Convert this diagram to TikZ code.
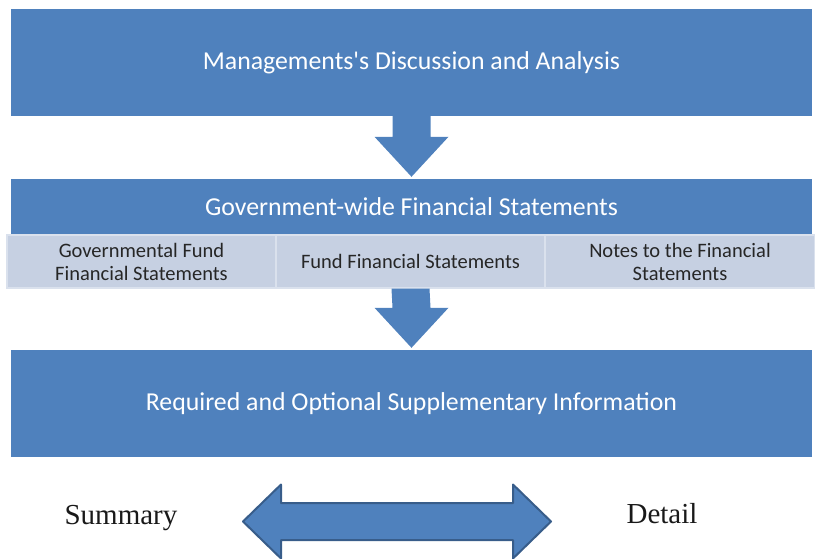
\documentclass[tikz,border=0pt]{standalone}
\usepackage{fontspec}
\newfontfamily\boxfont{Carlito}
\newfontfamily\serifname{Liberation Serif}
\usetikzlibrary{calc}

\definecolor{boxblue}{RGB}{79,129,189}
\definecolor{subfill}{RGB}{198,208,226}
\definecolor{subline}{RGB}{218,225,237}
\definecolor{arrowline}{RGB}{56,93,138}

\begin{document}
\begin{tikzpicture}[x=1pt, y=-1pt,
        bigbox/.style={fill=boxblue, text=white, inner sep=0pt,
            minimum width=801, font=\boxfont\fontsize{25.8}{30}\selectfont},
        subbox/.style={fill=subfill, draw=subline, line width=1.2pt, inner sep=0pt,
            minimum height=53, text=black!85, align=center,
            font=\boxfont\fontsize{20.5}{23}\selectfont},
        sidetext/.style={font=\serifname\fontsize{29}{33}\selectfont, text=black!90}
    ]

        \useasboundingbox (0,0) rectangle (815,558);

        % the three levels
        \node[bigbox, minimum height=107] (mda) at (411.5,62.5)
            {Managements's Discussion and Analysis};
        \node[bigbox, minimum height=56] (gov) at (411.5,207)
            {Government-wide Financial Statements};
        \node[subbox, minimum width=269] (govfund) at (141.5,261.5)
            {Governmental Fund\\Financial Statements};
        \node[subbox, minimum width=269] (fund) at (410.5,261.5)
            {Fund Financial Statements};
        \node[subbox, minimum width=270] (notes) at (680,261.5)
            {Notes to the Financial\\Statements};
        \node[bigbox, minimum height=107] (rsi) at (411.5,403.5)
            {Required and Optional Supplementary Information};

        % down arrows between the levels
        \foreach \from/\to in {mda/gov, fund/rsi}
            \fill[boxblue]
                ($(\from.south)+(-19,0)$) -- ($(\from.south)+(19,0)$)
                -- ($(\to.north)+(19,-42)$) -- ($(\to.north)+(37,-42)$)
                -- ($(\to.north)+(0,-2)$)
                -- ($(\to.north)+(-37,-42)$) -- ($(\to.north)+(-19,-42)$) -- cycle;

        \node[sidetext, anchor=base] (summary) at (121,524) {Summary};
        \node[sidetext, anchor=base] (detail) at (662,523) {Detail};

        \coordinate (mid) at (397,521.5);

        \draw[arrowline, line width=2pt, fill=boxblue, line join=round]
            ($(mid)+(-154,0)$) -- ($(mid)+(-116,-37)$) -- ($(mid)+(-116,-18.5)$)
            -- ($(mid)+(116,-18.5)$) -- ($(mid)+(116,-37)$) -- ($(mid)+(154,0)$)
            -- ($(mid)+(116,37)$) -- ($(mid)+(116,18.5)$)
            -- ($(mid)+(-116,18.5)$) -- ($(mid)+(-116,37)$) -- cycle;

    \end{tikzpicture}
\end{document}
